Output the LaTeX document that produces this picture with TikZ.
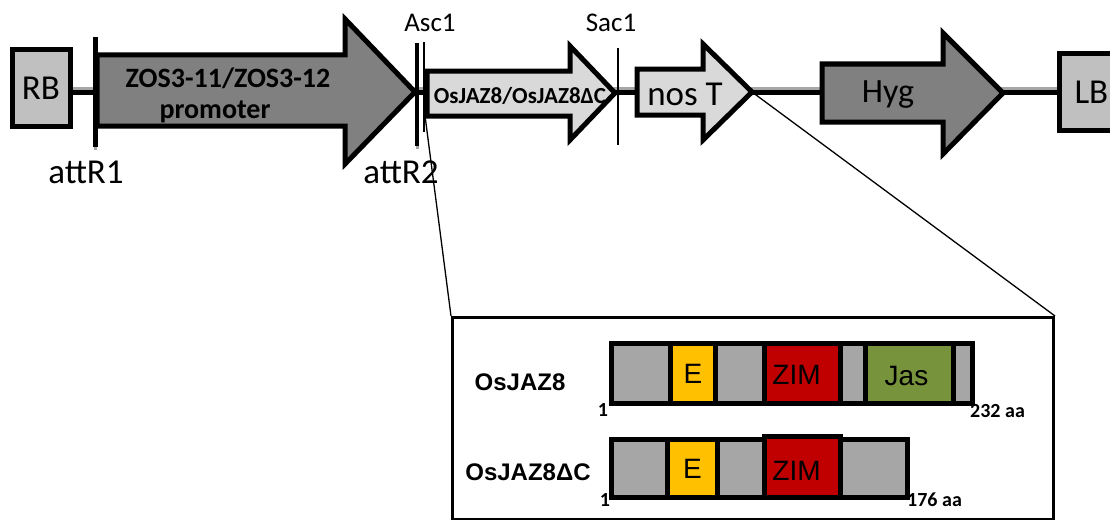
\documentclass[tikz,border=0pt]{standalone}
\usepackage{fontspec}
\setmainfont{Carlito}
\newfontfamily\arialf{Liberation Sans}
\definecolor{dgray}{HTML}{808080}
\definecolor{lgray}{HTML}{D9D9D9}
\definecolor{bgray}{HTML}{C0C0C0}
\definecolor{sgray}{HTML}{A6A6A6}
\definecolor{eyel}{HTML}{FFC000}
\definecolor{zred}{HTML}{C00000}
\definecolor{jgreen}{HTML}{77933C}
\begin{document}
\begin{tikzpicture}[x=1pt,y=-1pt,
  fs/.style={font=\fontsize{#1}{#1}\selectfont},
  genebox/.style={draw, line width=5pt, fill=bgray, inner sep=0pt},
  garrow/.style={draw, line width=5pt, line join=miter},
  backbone/.style={line width=5pt},
  shadowline/.style={line width=3pt, draw=sgray},
  barline/.style={line width=5pt},
  siteline/.style={line width=1.2pt},
  zoomline/.style={line width=1.3pt},
  seg/.style={draw, line width=5pt, inner sep=0pt, anchor=north west, font=\arialf\fontsize{28}{28}\selectfont},
  dlabel/.style={font=\arialf\bfseries\fontsize{24}{24}\selectfont},
  aapos/.style={font=\bfseries\fontsize{20}{20}\selectfont, inner sep=0pt}]
\clip (0,0) rectangle (1110,519);
% coordinates
\coordinate (rbE) at (70,92);
\coordinate (promTip) at (415,92);
\coordinate (jazL) at (427,93);
\coordinate (jazTip) at (615,93);
\coordinate (nosTip) at (752,92);
\coordinate (hygTip) at (1003,93);
\coordinate (lbW) at (1057,92);
% backbone shadow and line
\draw[shadowline] ([yshift=4pt]rbE) -- ([yshift=4pt]lbW);
\draw[backbone] (rbE) -- (lbW);
% RB / LB
\node[genebox, minimum width=58pt, minimum height=76pt, fs=35] (RB) at (41,88) {RB};
\node[genebox, minimum width=62pt, minimum height=77pt, fs=35, anchor=west, text width=50pt, align=left] (LB) at (lbW) {\hspace*{9pt}LB};
% promoter arrow
\draw[garrow, fill=dgray] (97,55) -- (345,55) -- (345,19) -- (promTip) -- (345,164) -- (345,126) -- (97,126) -- cycle;
\node[font=\bfseries\fontsize{28}{28}\selectfont] (prom1) at (228,78) {ZOS3-11/ZOS3-12};
\node[font=\bfseries\fontsize{28}{28}\selectfont] (prom2) at (215,112) {promoter};
% attR bars
\draw[shadowline] (95,140) -- (95,150);
\draw[barline] (95,37) -- (95,147);
\draw[shadowline] (417,140) -- (417,149);
\draw[barline, line width=4.5pt] (417,43) -- (417,146);
\node[fs=35, anchor=base] (attR1) at (86,183) {attR1};
\node[fs=35, anchor=base] (attR2) at (401,183) {attR2};
% OsJAZ8 arrow
\draw[garrow, fill=lgray] (jazL |- 0,71) -- (570,71) -- (570,46) -- (jazTip) -- (570,140) -- (570,116) -- (jazL |- 0,116) -- cycle;
\node[font=\bfseries\fontsize{23}{23}\selectfont] (jaz) at (520,96) {OsJAZ8/OsJAZ8ΔC};
% sites
\draw[siteline] (424,42) -- (424,132);
\draw[siteline] (618,48) -- (618,145);
\node[fs=27, anchor=base] (asc) at (430,32) {Asc1};
\node[fs=27, anchor=base] (sac) at (611,32) {Sac1};
% nos T
\draw[garrow, fill=lgray] (637,69) -- (703,69) -- (703,44) -- (nosTip) -- (703,140) -- (703,115) -- (637,115) -- cycle;
\node[fs=35] (nos) at (685,94) {nos T};
% Hyg
\draw[garrow, fill=dgray] (822,64) -- (943,64) -- (943,33) -- (hygTip) -- (943,154) -- (943,122) -- (822,122) -- cycle;
\node[fs=34] (hyg) at (888,95) {Hyg};
% inset box
\node[draw, line width=3pt, minimum width=601pt, minimum height=202pt, anchor=north west, inner sep=0pt] (inset) at (451,316) {};
\coordinate (zs) at (424,108);
\draw[zoomline] (zs) -- (inset.north west);
\draw[zoomline] (nosTip) -- (inset.north east);
% OsJAZ8 bar
\node[dlabel] (l1) at (520,382) {OsJAZ8};
\node[seg, fill=sgray, minimum width=59pt, minimum height=60pt] (s11) at (609,341) {};
\node[seg, fill=eyel, minimum width=45pt, minimum height=60pt] (s12) at (668,341) {E};
\node[seg, fill=sgray, minimum width=49pt, minimum height=60pt] (s13) at (713,341) {};
\node[seg, fill=zred, minimum width=76pt, minimum height=60pt] (s14) at (762,341) {};
\node[font=\arialf\fontsize{28}{28}\selectfont] (z1) at ([xshift=-6pt,yshift=-1pt]s14.center) {ZIM};
\node[seg, fill=sgray, minimum width=25pt, minimum height=60pt] (s15) at (838,341) {};
\node[seg, fill=jgreen, minimum width=88pt, minimum height=60pt] (s16) at (863,341) {};
\node[font=\arialf\fontsize{28}{28}\selectfont] (j1) at ([xshift=-3pt,yshift=-2pt]s16.center) {Jas};
\node[seg, fill=sgray, minimum width=19pt, minimum height=60pt] (s17) at (951,341) {};
\node[aapos] (p1a) at (603,410) {1};
\node[aapos, anchor=west] (p1b) at (970,411) {232 aa};
% OsJAZ8dC bar
\node[dlabel] (l2) at (528,472) {OsJAZ8ΔC};
\node[seg, fill=sgray, minimum width=56pt, minimum height=58pt] (s21) at (609,437) {};
\node[seg, fill=eyel, minimum width=50pt, minimum height=58pt] (s22) at (665,437) {};
\node[font=\arialf\fontsize{28}{28}\selectfont] (e2) at (s22.center) {E};
\node[seg, fill=sgray, minimum width=47pt, minimum height=58pt] (s23) at (715,437) {};
\node[seg, fill=sgray, minimum width=67pt, minimum height=58pt] (s25) at (838,437) {};
\node[seg, fill=zred, minimum width=76pt, minimum height=61pt] (s24) at (762,434) {};
\node[font=\arialf\fontsize{28}{28}\selectfont] (z2) at ([xshift=-6pt,yshift=-4pt]s24.center) {ZIM};
\node[aapos] (p2a) at (605,500) {1};
\node[aapos, anchor=west] (p2b) at (907,500) {176 aa};
\end{tikzpicture}
\end{document}
